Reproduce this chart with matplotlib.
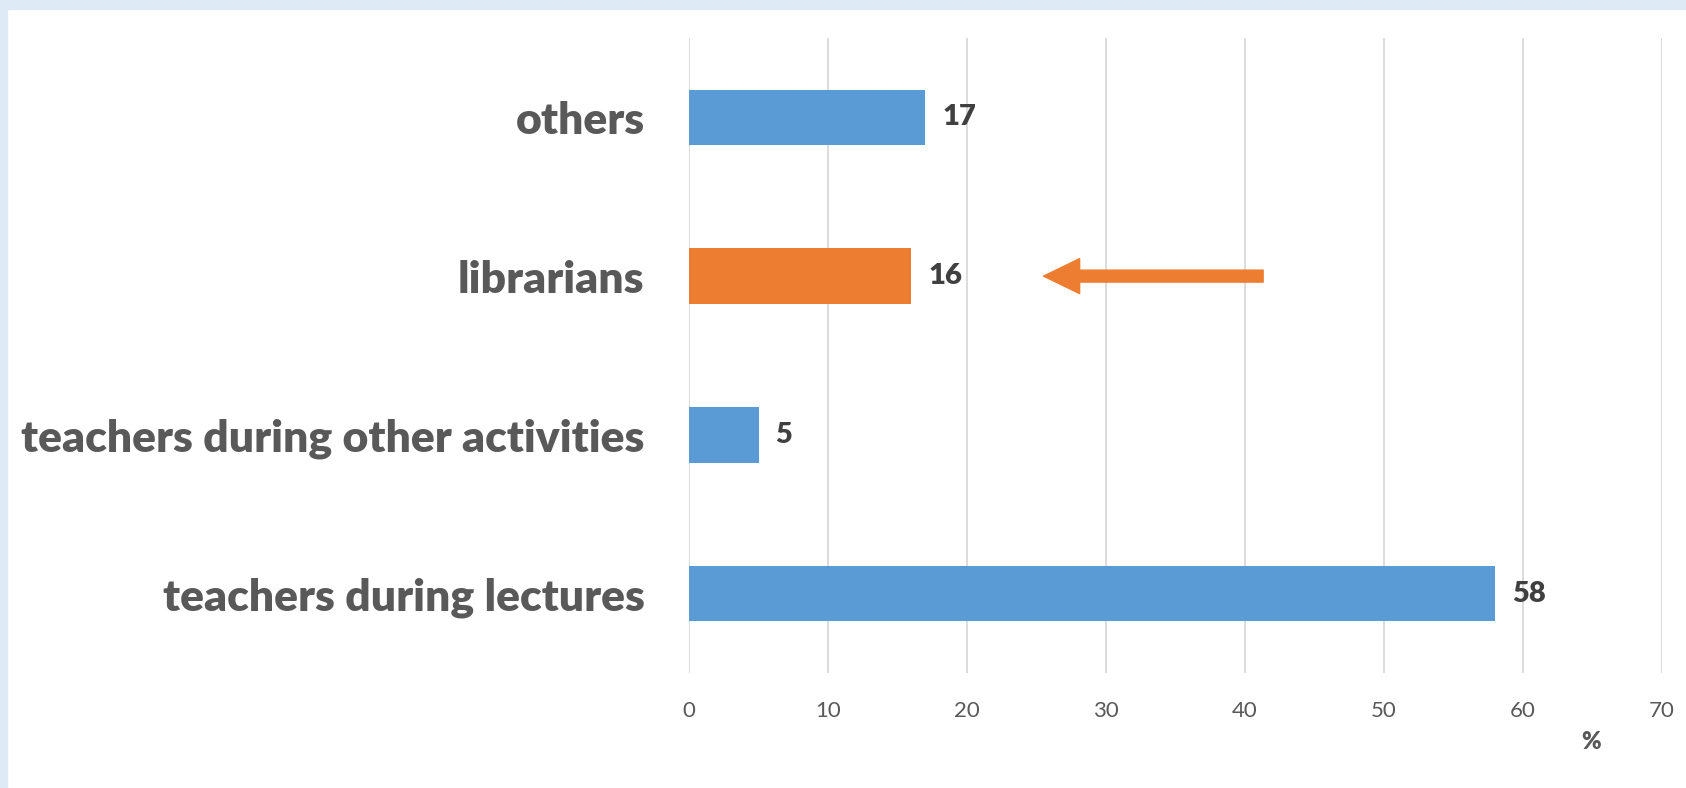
import matplotlib.pyplot as plt
from matplotlib.patches import Rectangle

categories = ['teachers during lectures', 'teachers during other activities',
              'librarians', 'others']
values = [58, 5, 16, 17]
highlight = 'librarians'
xticks = [0, 10, 20, 30, 40, 50, 60, 70]
arrow_from, arrow_to = 41.3, 25.5

blue = '#5B9BD5'
orange = '#ED7D31'
font = 'Lato'

fig = plt.figure(figsize=(16.86, 7.88), dpi=100)

# pale blue frame along the top and left edges
fig.patches.append(Rectangle((0, 0.988), 1, 0.012, transform=fig.transFigure,
                             color='#DEEAF6', zorder=0))
fig.patches.append(Rectangle((0, 0), 0.0042, 1, transform=fig.transFigure,
                             color='#DEEAF6', zorder=0))

ax = fig.add_axes([0.4087, 0.1459, 0.5771, 0.8059])

colors = [orange if c == highlight else blue for c in categories]
ypos = range(len(categories))
bars = ax.barh(ypos, values, height=0.35, color=colors, zorder=3)

for b, v in zip(bars, values):
    ax.annotate(str(v), (b.get_width(), b.get_y() + b.get_height() / 2),
                xytext=(12, 0), textcoords='offset points', va='center', ha='left',
                fontsize=21, fontweight='heavy', color='#404040', family=font)

# arrow pointing back at the librarians bar
iy = categories.index(highlight)
ax.annotate('', xy=(arrow_to, iy), xytext=(arrow_from, iy),
            arrowprops=dict(arrowstyle='simple,head_length=1.3,head_width=1.26,tail_width=0.43',
                            mutation_scale=20, color=orange, shrinkA=0, shrinkB=0),
            zorder=4)

ax.set_xlim(0, 70)
ax.set_ylim(-0.5, len(categories) - 0.5)
ax.set_xticks(xticks)
ax.set_yticks(list(ypos))
ax.set_yticklabels(categories)
ax.grid(axis='x', color='#D9D9D9', linewidth=1.3, zorder=0)
for s in ax.spines.values():
    s.set_visible(False)
ax.tick_params(axis='both', length=0)
ax.tick_params(axis='x', pad=20, labelsize=16, labelcolor='#595959')
ax.tick_params(axis='y', pad=32, labelcolor='#595959')
for t in ax.get_xticklabels():
    t.set_family(font)
for t in ax.get_yticklabels():
    t.set_family(font)
    t.set_fontweight('heavy')
    t.set_fontsize(32)

fig.text(0.9437, 0.058, '%', fontsize=17, fontweight='heavy', color='#595959',
         family=font, ha='center', va='center')

fig.savefig('out.png', dpi=100)
